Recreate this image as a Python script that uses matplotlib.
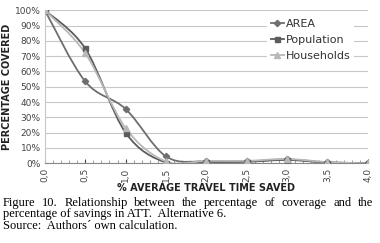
import matplotlib.pyplot as plt
import numpy as np
from matplotlib.path import Path
from matplotlib.patches import PathPatch
from matplotlib.ticker import MultipleLocator, FuncFormatter

time_saved = [0.0, 0.5, 1.0, 1.5, 2.0, 2.5, 3.0, 3.5, 4.0]
area = [100, 53.5, 35.5, 4.5, 1.2, 1.2, 2.5, 0.6, 0.0]
population = [100, 75, 20, 0.5, 1.0, 1.0, 2.2, 0.5, 0.2]
households = [100, 72, 23, 1.2, 1.6, 1.6, 2.8, 0.8, 0.0]

series = [("AREA", area, "#6e6e6e", "D", 3.2),
          ("Population", population, "#5c5c5c", "s", 3.6),
          ("Households", households, "#b8b8b8", "^", 3.8)]

caption_1 = "Figure 10. Relationship between the percentage of coverage and the"
caption_2 = "percentage of savings in ATT.  Alternative 6."
caption_3 = "Source:  Authors\u00b4 own calculation."


def smooth_path(x, y):
    # Excel-like smoothed line: Catmull-Rom segments as cubic bezier
    p = np.column_stack([x, y]).astype(float)
    verts = [p[0]]
    codes = [Path.MOVETO]
    n = len(p)
    for i in range(n - 1):
        p0 = p[i - 1] if i > 0 else p[i]
        p3 = p[i + 2] if i + 2 < n else p[i + 1]
        c1 = p[i] + (p[i + 1] - p0) / 6
        c2 = p[i + 1] - (p3 - p[i]) / 6
        verts += [c1, c2, p[i + 1]]
        codes += [Path.CURVE4] * 3
    return Path(verts, codes)


fig = plt.figure(figsize=(3.8, 2.43), dpi=100)
ax = fig.add_axes([0.118, 0.328, 0.85, 0.63])

for name, vals, col, mk, ms in series:
    ax.add_patch(PathPatch(smooth_path(time_saved, vals), facecolor="none",
                           edgecolor=col, lw=1.3, zorder=3))
    ax.plot(time_saved, vals, ls="none", marker=mk, color=col, ms=ms, zorder=4)
    ax.plot([], [], color=col, lw=1.3, marker=mk, ms=ms, label=name)

ax.set_xlim(0, 4.0)
ax.set_ylim(0, 100)
ax.set_xticks(time_saved)
ax.xaxis.set_minor_locator(MultipleLocator(0.1))
ax.xaxis.set_major_formatter(FuncFormatter(lambda v, p: f"{v:.1f}".replace(".", ",")))
ax.set_yticks(np.arange(0, 101, 10))
ax.yaxis.set_major_formatter(FuncFormatter(lambda v, p: f"{v:.0f}%"))
ax.tick_params(axis="x", labelrotation=90, labelsize=6.5, colors="#444444",
               direction="in", length=3, pad=3)
ax.tick_params(axis="x", which="minor", direction="in", length=2, color="#888888")
ax.tick_params(axis="y", labelsize=6.5, colors="#444444", length=0, pad=3)
ax.grid(axis="y", color="#c8c8c8", lw=0.8)
ax.set_axisbelow(True)
for s in ["top", "right"]:
    ax.spines[s].set_visible(False)
ax.spines["left"].set_color("#c8c8c8")
ax.spines["bottom"].set_color("#888888")

ax.set_ylabel("PERCENTAGE COVERED", fontsize=7, fontweight="bold", color="#222222", labelpad=2)
ax.set_xlabel("% AVERAGE TRAVEL TIME SAVED", fontsize=7, fontweight="bold",
              color="#222222", labelpad=1)

leg = ax.legend(loc="upper right", bbox_to_anchor=(0.975, 1.0), fontsize=8, frameon=True,
                handlelength=1.2, handletextpad=0.2, labelspacing=0.55, borderpad=0.3,
                fancybox=False)
leg.get_frame().set_edgecolor("none")
leg.get_frame().set_facecolor("white")
leg.get_frame().set_alpha(1)
for t in leg.get_texts():
    t.set_color("#333333")

# caption, first line justified across the figure width
cap_kw = dict(fontsize=9, family="Liberation Serif", va="center", color="black")
renderer = fig.canvas.get_renderer()
words = caption_1.split()
left, right = 3 / 380, 373 / 380
arts = [fig.text(0, 0.165, w, **cap_kw) for w in words]
widths = [a.get_window_extent(renderer).width / fig.bbox.width for a in arts]
gap = (right - left - sum(widths)) / (len(words) - 1)
xpos = left
for a, w in zip(arts, widths):
    a.set_x(xpos)
    xpos += w + gap
fig.text(left, 0.118, caption_2, **cap_kw)
fig.text(left, 0.068, caption_3, **cap_kw)

fig.savefig("out.png", dpi=100)
